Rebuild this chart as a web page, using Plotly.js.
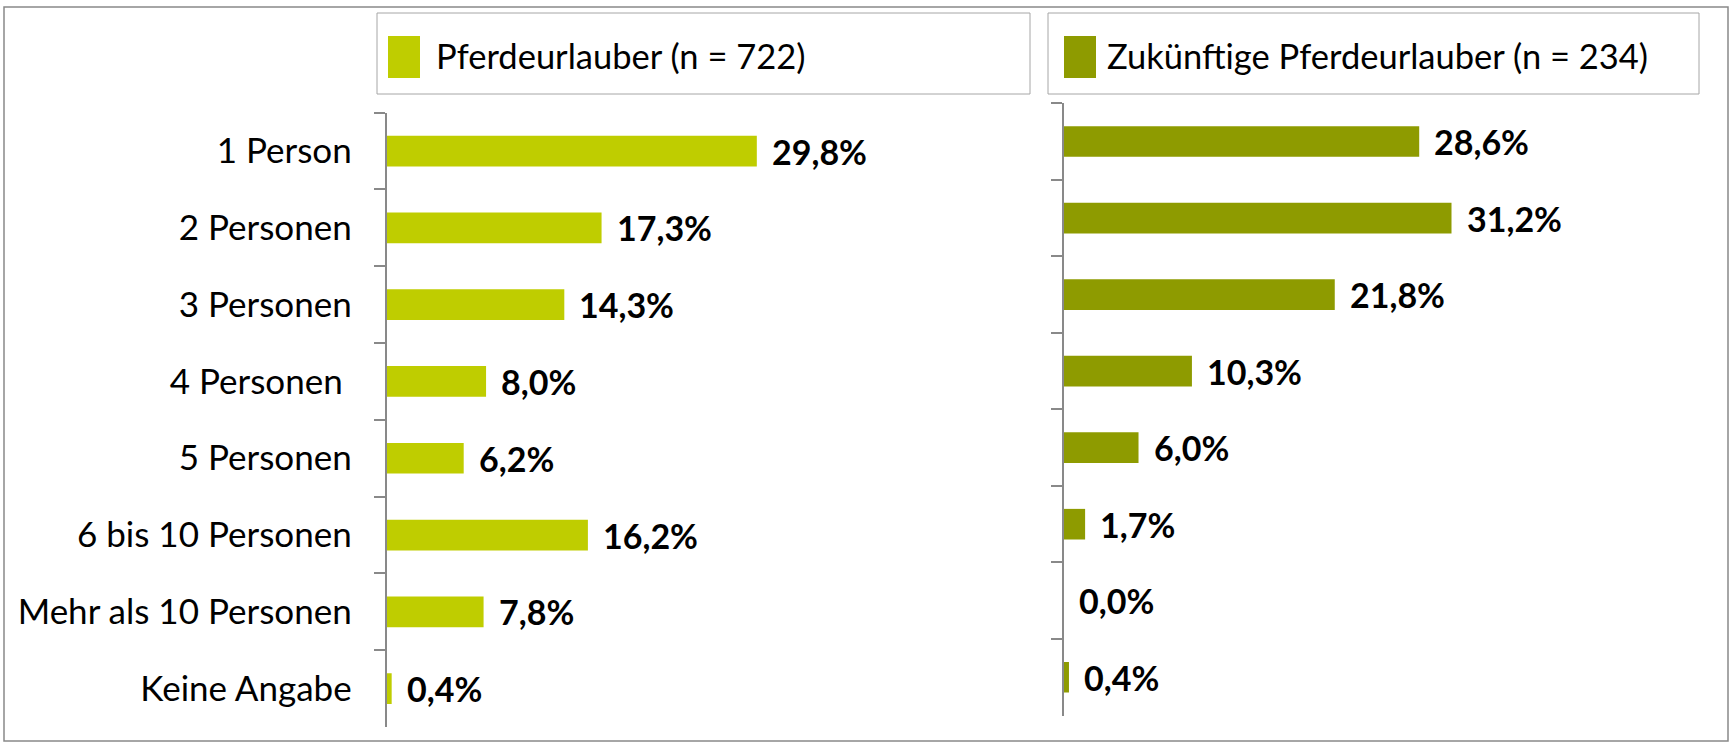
<!DOCTYPE html>
<html>
<head>
<meta charset="utf-8">
<script src="https://cdn.plot.ly/plotly-3.0.1.min.js"></script>
<style>html,body{margin:0;padding:0;background:#fff;}#chart{width:1734px;height:745px;}</style>
</head>
<body>
<div id="chart"></div>
<script>
const categories = ["1 Person", "2 Personen", "3 Personen", "4 Personen\u00a0", "5 Personen", "6 bis 10 Personen", "Mehr als 10 Personen", "Keine Angabe"];
const seriesNames = ["Pferdeurlauber (n = 722)", "Zukünftige Pferdeurlauber (n = 234)"];
const pferdeurlauber = [29.8, 17.3, 14.3, 8.0, 6.2, 16.2, 7.8, 0.4];
const zukuenftige = [28.6, 31.2, 21.8, 10.3, 6.0, 1.7, 0.0, 0.4];
const colors = ["#BFCD00", "#8E9B00"];

const FONT = "Lato, 'Open Sans', sans-serif";
const W = 1734, H = 745;
const px = x => x / W;
const py = y => 1 - y / H;

function fmt(v) { return v.toFixed(1).replace('.', ',') + '%'; }

const traces = [
  {type: 'bar', orientation: 'h', name: seriesNames[0], x: pferdeurlauber, y: categories,
   xaxis: 'x', yaxis: 'y', width: 0.4, marker: {color: colors[0]}, showlegend: false, hoverinfo: 'skip'},
  {type: 'bar', orientation: 'h', name: seriesNames[1], x: zukuenftige, y: categories,
   xaxis: 'x2', yaxis: 'y2', width: 0.4, marker: {color: colors[1]}, showlegend: false, hoverinfo: 'skip'}
];

const annotations = [];
categories.forEach((c, i) => {
  annotations.push({xref: 'x', yref: 'y', x: pferdeurlauber[i], y: c, text: fmt(pferdeurlauber[i]),
    showarrow: false, xanchor: 'left', yanchor: 'middle', xshift: 13,
    font: {family: FONT, size: 34, color: '#000', weight: 'bold'}});
  annotations.push({xref: 'x2', yref: 'y2', x: zukuenftige[i], y: c, text: fmt(zukuenftige[i]),
    showarrow: false, xanchor: 'left', yanchor: 'middle', xshift: 13,
    font: {family: FONT, size: 34, color: '#000', weight: 'bold'}});
});
// legend texts
annotations.push({xref: 'paper', yref: 'paper', x: px(434), y: py(56), text: seriesNames[0], showarrow: false,
  xanchor: 'left', yanchor: 'middle', font: {family: FONT, size: 34.5, color: '#000'}});
annotations.push({xref: 'paper', yref: 'paper', x: px(1105), y: py(56), text: seriesNames[1], showarrow: false,
  xanchor: 'left', yanchor: 'middle', font: {family: FONT, size: 34.5, color: '#000'}});

const shapes = [
  // outer frame
  {type: 'rect', xref: 'paper', yref: 'paper', x0: px(4), x1: px(1728), y0: py(7), y1: py(741),
   line: {color: '#898989', width: 1.5}, fillcolor: 'rgba(0,0,0,0)'},
  // legend boxes
  {type: 'rect', xref: 'paper', yref: 'paper', x0: px(377), x1: px(1030), y0: py(13), y1: py(94),
   line: {color: '#a6a6a6', width: 1}, fillcolor: 'rgba(0,0,0,0)'},
  {type: 'rect', xref: 'paper', yref: 'paper', x0: px(1048), x1: px(1699), y0: py(13), y1: py(94),
   line: {color: '#a6a6a6', width: 1}, fillcolor: 'rgba(0,0,0,0)'},
  // legend swatches
  {type: 'rect', xref: 'paper', yref: 'paper', x0: px(388), x1: px(420), y0: py(36), y1: py(78),
   line: {width: 0}, fillcolor: colors[0]},
  {type: 'rect', xref: 'paper', yref: 'paper', x0: px(1064), x1: px(1096), y0: py(36), y1: py(78),
   line: {width: 0}, fillcolor: colors[1]}
];

const axisX = {range: [0, 40], showgrid: false, zeroline: false, showline: false, showticklabels: false, ticks: '', fixedrange: true};

const layout = {
  width: W, height: H,
  margin: {l: 0, r: 0, t: 0, b: 0, pad: 0},
  paper_bgcolor: '#fff', plot_bgcolor: 'rgba(0,0,0,0)',
  separators: ',.',
  showlegend: false,
  font: {family: FONT, size: 35, color: '#000'},
  xaxis: Object.assign({}, axisX, {domain: [px(386.7), px(386.7 + 40 * 12.42)], anchor: 'y'}),
  xaxis2: Object.assign({}, axisX, {domain: [px(1064), px(1064 + 40 * 12.42)], anchor: 'y2'}),
  yaxis: {domain: [py(727), py(112.7)], anchor: 'x', type: 'category', autorange: 'reversed',
    showline: true, linecolor: '#898989', linewidth: 2, ticks: 'outside', tickson: 'boundaries',
    ticklen: 11, tickwidth: 2, tickcolor: '#898989', showgrid: false, zeroline: false,
    ticklabelstandoff: 26, tickfont: {family: FONT, size: 35, color: '#000'}},
  yaxis2: {domain: [py(715.5), py(103.3)], anchor: 'x2', type: 'category', autorange: 'reversed',
    showline: true, linecolor: '#898989', linewidth: 2, ticks: 'outside', tickson: 'boundaries',
    ticklen: 11, tickwidth: 2, tickcolor: '#898989', showgrid: false, zeroline: false,
    showticklabels: false},
  annotations: annotations,
  shapes: shapes,
  bargap: 0.6
};

Plotly.newPlot('chart', traces, layout, {staticPlot: true, displayModeBar: false});
</script>
</body>
</html>
